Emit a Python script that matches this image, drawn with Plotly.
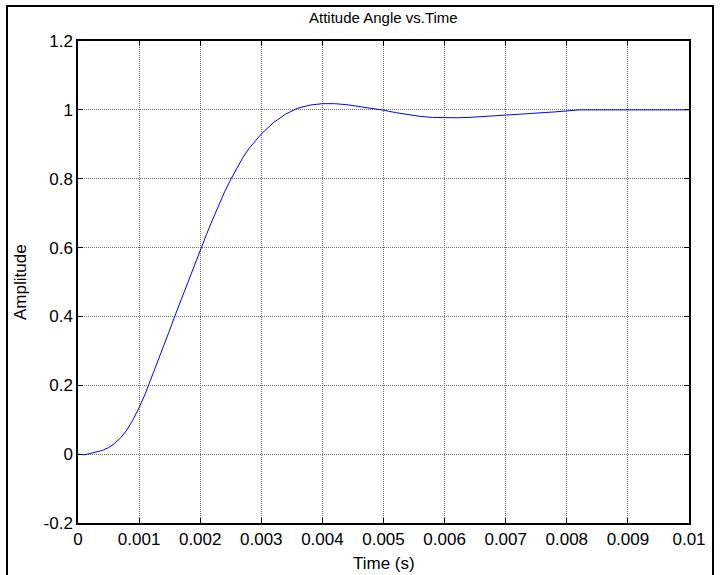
import plotly.graph_objects as go

# Time (ms) and amplitude
time_ms = [0, 0.1, 0.2, 0.3, 0.4, 0.5, 0.6, 0.7, 0.8, 0.9, 1.0, 1.1, 1.2, 1.3, 1.4,
           1.5, 1.6, 1.7, 1.8, 1.9, 2.0, 2.1, 2.2, 2.3, 2.4, 2.5, 2.6, 2.7, 2.8, 2.9,
           3.0, 3.2, 3.4, 3.6, 3.8, 4.0, 4.2, 4.4, 4.6, 4.8, 5.0, 5.2, 5.4, 5.6, 5.8,
           6.0, 6.2, 6.4, 6.6, 6.8, 7.0, 7.2, 7.4, 7.6, 7.8, 8.0, 8.2, 9.0, 10.0]
amplitude = [0, -0.002, 0.002, 0.006, 0.011, 0.019, 0.031, 0.048, 0.07, 0.1, 0.135,
             0.175, 0.22, 0.265, 0.312, 0.36, 0.408, 0.455, 0.5, 0.545, 0.59, 0.637, 0.68,
             0.722, 0.762, 0.798, 0.832, 0.862, 0.888, 0.91, 0.93, 0.963, 0.988, 1.005,
             1.014, 1.018, 1.018, 1.015, 1.01, 1.005, 0.999, 0.992, 0.986, 0.981, 0.978,
             0.977, 0.977, 0.978, 0.98, 0.982, 0.984, 0.987, 0.989, 0.991, 0.994, 0.997,
             1.0, 1.0, 1.0]
time_s = [t / 1000 for t in time_ms]

x_ticks = [0, 0.001, 0.002, 0.003, 0.004, 0.005, 0.006, 0.007, 0.008, 0.009, 0.01]
x_tick_text = ["0", "0.001", "0.002", "0.003", "0.004", "0.005", "0.006", "0.007",
               "0.008", "0.009", "0.01"]
y_ticks = [-0.2, 0, 0.2, 0.4, 0.6, 0.8, 1.0, 1.2]
y_tick_text = ["-0.2", "0", "0.2", "0.4", "0.6", "0.8", "1", "1.2"]

FONT = "Liberation Sans, Arial, sans-serif"
W, H = 721, 575
L, R, T, B = 78, 32, 41, 52
pw, ph = W - L - R, H - T - B

fig = go.Figure()
fig.add_trace(go.Scatter(x=time_s, y=amplitude, mode="lines",
                         line=dict(color="#0000ff", width=1), showlegend=False))

axis_common = dict(
    showline=True, linecolor="black", linewidth=1.5, mirror="ticks",
    ticks="inside", ticklen=5, tickcolor="black", tickwidth=1,
    showgrid=True, gridcolor="#707070", griddash="1px,1px", gridwidth=1,
    zeroline=False, tickfont=dict(family=FONT, size=17, color="black"),
)
fig.update_xaxes(range=[0, 0.01], tickvals=x_ticks, ticktext=x_tick_text, **axis_common)
fig.update_yaxes(range=[-0.2, 1.2], tickvals=y_ticks, ticktext=y_tick_text, **axis_common)


def px(xp):
    return (xp - L) / pw


def py(yp):
    return (H - B - yp) / ph


fig.add_shape(type="rect", xref="paper", yref="paper",
              x0=px(7), x1=px(713), y0=py(577), y1=py(6),
              line=dict(color="black", width=2))

fig.add_annotation(text="Attitude Angle vs.Time", xref="paper", yref="paper",
                   x=0.5, y=py(18), showarrow=False, xanchor="center", yanchor="middle",
                   font=dict(family=FONT, size=15, color="black"))
fig.add_annotation(text="Time (s)", xref="paper", yref="paper",
                   x=0.5, y=py(563), showarrow=False, xanchor="center", yanchor="middle",
                   font=dict(family=FONT, size=17, color="black"))
fig.add_annotation(text="Amplitude", xref="paper", yref="paper",
                   x=px(20), y=0.5, showarrow=False, xanchor="center", yanchor="middle",
                   textangle=-90, font=dict(family=FONT, size=17, color="black"))

fig.update_layout(width=W, height=H, margin=dict(l=L, r=R, t=T, b=B),
                  paper_bgcolor="white", plot_bgcolor="white")
fig.write_html("out.html")
